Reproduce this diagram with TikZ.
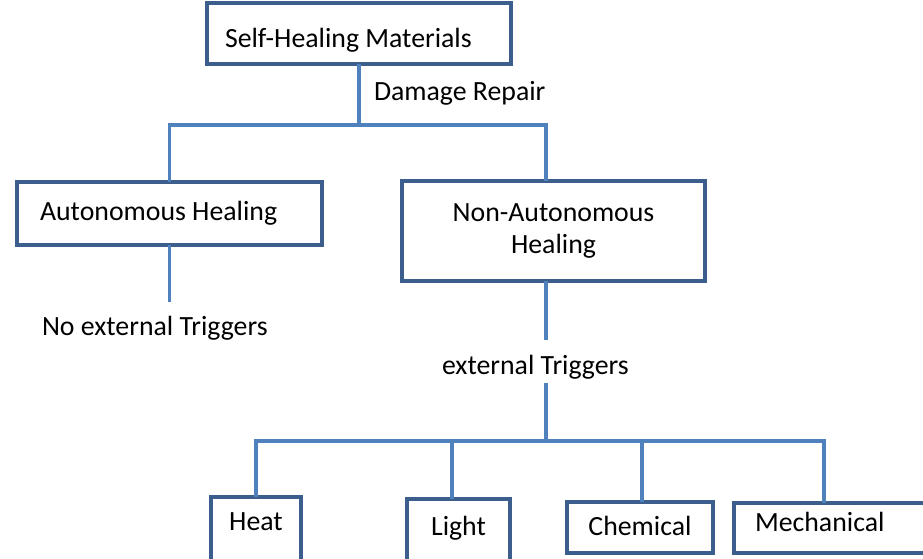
\documentclass[tikz,border=0pt]{standalone}
\usepackage{fontspec}
\setmainfont{Carlito}
\usepackage{tikz}
\usetikzlibrary{calc}

\definecolor{linkblue}{HTML}{4F81BD}
\definecolor{boxblue}{HTML}{3B5E8C}

\tikzset{
  box/.style={draw=boxblue,line width=4.5pt,fill=white,inner ysep=0pt,outer sep=0pt,text=black},
  link/.style={draw=linkblue,line width=3.5pt},
  plain/.style={inner sep=0pt,outer sep=0pt,text=black}
}

\begin{document}
\begin{tikzpicture}[x=1pt,y=-1pt,font=\fontsize{27.8}{32.5}\selectfont]
  % Boundary
  \useasboundingbox (0,0) rectangle (923,558);
  \clip (0,0) rectangle (923,558);
  % Top level
  \node[box,anchor=north west,inner xsep=18pt,text width=268pt,align=flush left,text height=44pt,text depth=17pt] (top) at (207,3) {Self-Healing Materials};
  \node[plain,anchor=base west] (repair) at (374,100) {Damage Repair};
  % Healing types
  \node[box,anchor=north west,inner xsep=23pt,text width=259pt,align=flush left,text height=38pt,text depth=25pt] (auto) at (17,182) {Autonomous Healing};
  \node[box,anchor=north west,minimum width=303pt,minimum height=100pt,align=center] (nonauto) at (402,181) {Non-Autonomous\\Healing};
  \node[plain,anchor=base west,text height=33pt,text depth=9pt] (notrig) at (42,335) {No external Triggers};
  \node[plain,anchor=base west,text height=34pt,text depth=9pt] (trig) at (442,374) {external Triggers};
  % Triggers
  \node[box,anchor=north,minimum width=90pt,text height=33pt,text depth=45pt] (heat) at (256,497) {Heat};
  \node[box,anchor=north,minimum width=103pt,text height=36pt,text depth=40pt] (light) at (458.5,499) {Light};
  \node[box,anchor=north,minimum width=146pt,text height=33pt,text depth=18pt] (chem) at (640,502) {Chemical};
  \node[box,anchor=north west,inner xsep=21pt,text width=174pt,align=flush left,text height=28pt,text depth=22pt] (mech) at (734,503) {Mechanical};
  % Branch points
  \coordinate (upper) at (359,125);
  \coordinate (nabranch) at (546,125);
  \coordinate (lower) at (546,441);
  \coordinate (c1) at (256,441);
  \coordinate (c2) at (452,441);
  \coordinate (c3) at (642,441);
  \coordinate (c4) at (824,441);
  % Connectors
  \draw[link] (top.south) -- (upper);
  \draw[link] (auto.north) |- (nabranch) -- (nabranch |- nonauto.north);
  \draw[link] (auto.south) -- (auto.south |- notrig.north);
  \draw[link] (nonauto.south -| nabranch) -- (nabranch |- trig.north);
  \draw[link] (nabranch |- trig.south) -- (lower);
  \draw[link] (c1 |- heat.north) -- (c1) -- (c4) -- (c4 |- mech.north);
  \foreach \c/\n in {c2/light,c3/chem}
    \draw[link] (\c) -- (\c |- \n.north);
\end{tikzpicture}
\end{document}
